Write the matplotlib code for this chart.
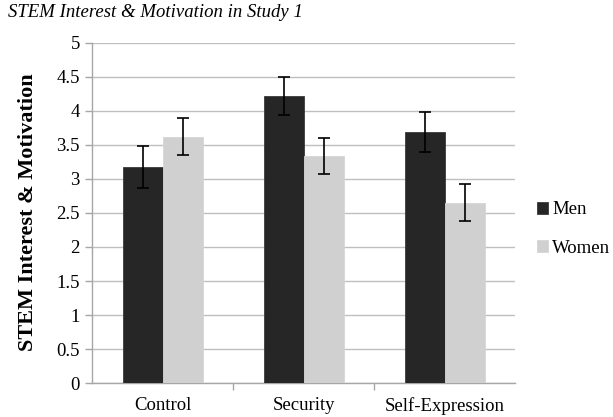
import numpy as np
import matplotlib.pyplot as plt

# values
conditions = ['Control', 'Security', 'Self-Expression']
men = [3.18, 4.22, 3.69]
women = [3.62, 3.34, 2.65]
men_err = [0.31, 0.28, 0.30]
women_err = [0.27, 0.265, 0.275]
yticks = [0, 0.5, 1, 1.5, 2, 2.5, 3, 3.5, 4, 4.5, 5]
ytick_labels = ['0', '0.5', '1', '1.5', '2', '2.5', '3', '3.5', '4', '4.5', '5']

plt.rcParams['font.family'] = ['Liberation Serif', 'DejaVu Serif']

fig = plt.figure(figsize=(6.13, 4.17), dpi=100)
ax = fig.add_axes([92.3 / 613, (417 - 383) / 417, 423 / 613, (383 - 43) / 417])

x = np.arange(len(conditions))
w = 0.284
err_kw = dict(ecolor='black', elinewidth=1.2, capsize=4, capthick=1.2)
ax.bar(x - w / 2, men, w, yerr=men_err, color='#262626', edgecolor='#3a3a3a',
       linewidth=0.6, label='Men', error_kw=err_kw, zorder=3)
ax.bar(x + w / 2, women, w, yerr=women_err, color='#d0d0d0', edgecolor='#d6d6d6',
       linewidth=0.6, label='Women', error_kw=err_kw, zorder=3)

ax.set_xlim(-0.5, len(conditions) - 0.5)
ax.set_ylim(0, 5)
ax.set_yticks(yticks)
ax.set_yticklabels(ytick_labels, fontsize=13.5)
ax.set_xticks(x)
ax.set_xticklabels(conditions, fontsize=13.5)
ax.tick_params(axis='x', length=0, pad=10)
ax.set_xticks([0.5, 1.5], minor=True)
ax.tick_params(axis='x', which='minor', length=5, color='#a6a6a6', width=1)
ax.tick_params(axis='y', length=5, color='#a6a6a6', width=1, pad=4)

ax.grid(axis='y', color='#bfbfbf', linewidth=1, zorder=0)
ax.set_axisbelow(True)
for s in ['top', 'right']:
    ax.spines[s].set_visible(False)
for s in ['left', 'bottom']:
    ax.spines[s].set_color('#a6a6a6')
    ax.spines[s].set_linewidth(1)

ax.set_ylabel('STEM Interest & Motivation', fontsize=16, fontweight='bold')
ax.yaxis.set_label_coords(-(92.3 - 38) / 423, (383 - 212) / 340)

fig.text(8 / 613, 1 - 17 / 417, 'STEM Interest & Motivation in Study 1',
         fontsize=13.5, style='italic', va='baseline', ha='left')

fig.legend(loc='center left', bbox_to_anchor=(537 / 613, 1 - 229 / 417),
           frameon=False, fontsize=13.5, handlelength=0.6, handleheight=0.6,
           handletextpad=0.2, labelspacing=1.15, borderpad=0, borderaxespad=0)

fig.savefig('out.png', dpi=100)
